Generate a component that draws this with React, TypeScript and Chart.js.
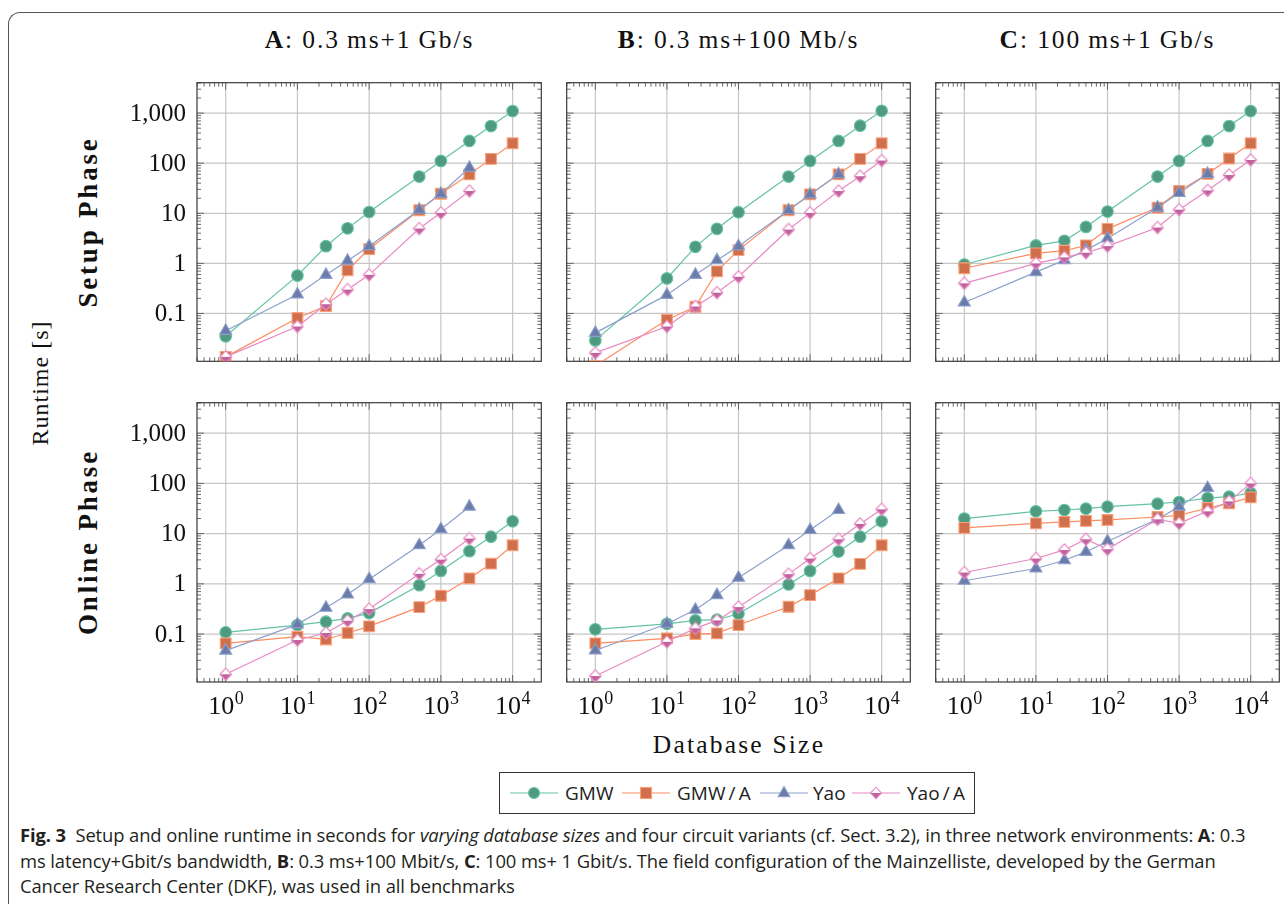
import React, { useEffect, useRef } from 'react';
import { Chart, registerables } from 'chart.js';

Chart.register(...registerables);

// ---------- data ----------
const dbSizes = [1, 10, 25, 50, 100, 500, 1000, 2500, 5000, 10000];
const seriesNames = ['GMW', 'GMW/A', 'Yao', 'Yao/A'];
const legendLabels = ['GMW', 'GMW\u2009/\u2009A', 'Yao', 'Yao\u2009/\u2009A'];
const columnTitles = [
  ['A', ': 0.3\u2009ms+1\u2009Gb/s'],
  ['B', ': 0.3\u2009ms+100\u2009Mb/s'],
  ['C', ': 100\u2009ms+1\u2009Gb/s'],
];
const rowTitles = ['Setup Phase', 'Online Phase'];
const yTickValues = [0.1, 1, 10, 100, 1000];
const yTickLabels = ['0.1', '1', '10', '100', '1,000'];
const xTickExponents = [0, 1, 2, 3, 4];

const setupA_GMW = [0.035, 0.57, 2.2, 5.0, 10.6, 54, 111, 278, 552, 1096];
const setupA_GMWA = [0.0136, 0.081, 0.14, 0.73, 1.93, 11.5, 24.6, 60, 122, 250];
const setupA_Yao = [0.045, 0.24, 0.59, 1.13, 2.2, 11.8, 24.6, 81];
const setupA_YaoA = [0.0136, 0.055, 0.153, 0.3, 0.59, 4.96, 10.2, 27.8];

const setupB_GMW = [0.029, 0.5, 2.14, 4.9, 10.5, 54, 111, 278, 560, 1112];
const setupB_GMWA = [0.009, 0.075, 0.136, 0.69, 1.84, 11.5, 23.8, 60, 122, 250];
const setupB_Yao = [0.041, 0.235, 0.59, 1.16, 2.2, 11.5, 23.8, 60];
const setupB_YaoA = [0.0163, 0.055, 0.138, 0.26, 0.54, 4.74, 10.2, 27.8, 55, 113];

const setupC_GMW = [0.95, 2.28, 2.82, 5.35, 10.8, 54, 111, 278, 552, 1096];
const setupC_GMWA = [0.8, 1.58, 1.79, 2.28, 4.89, 13.0, 27.8, 61, 124, 250];
const setupC_Yao = [0.166, 0.67, 1.16, 1.84, 3.14, 13.0, 25.4, 61];
const setupC_YaoA = [0.4, 1.0, 1.32, 1.63, 2.21, 5.19, 11.8, 28.6, 58, 116];

const onlineA_GMW = [0.108, 0.151, 0.176, 0.205, 0.261, 0.94, 1.81, 4.46, 8.7, 17.6];
const onlineA_GMWA = [0.065, 0.0885, 0.078, 0.105, 0.142, 0.344, 0.578, 1.28, 2.53, 5.86];
const onlineA_Yao = [0.0467, 0.156, 0.333, 0.614, 1.24, 5.86, 12.2, 34.4];
const onlineA_YaoA = [0.0158, 0.076, 0.105, 0.184, 0.314, 1.58, 3.04, 7.96];

const onlineB_GMW = [0.124, 0.16, 0.187, 0.193, 0.253, 0.97, 1.81, 4.39, 8.7, 17.6];
const onlineB_GMWA = [0.065, 0.082, 0.1, 0.103, 0.151, 0.349, 0.596, 1.28, 2.5, 5.86];
const onlineB_Yao = [0.047, 0.16, 0.304, 0.596, 1.32, 5.86, 11.8, 29.5];
const onlineB_YaoA = [0.0146, 0.07, 0.13, 0.187, 0.344, 1.56, 3.19, 7.71, 15.6, 30.4];

const onlineC_GMW = [19.9, 27.8, 29.5, 31.4, 34.4, 39.4, 42.6, 51.1, 54.3, 64.3];
const onlineC_GMWA = [13.0, 16.0, 17.1, 17.9, 18.7, 21.4, 23.1, 32.4, 40.1, 52.7];
const onlineC_Yao = [1.15, 2.02, 2.95, 4.32, 7.04, 19.3, 34.4, 80.7];
const onlineC_YaoA = [1.68, 3.19, 4.73, 7.71, 4.89, 19.3, 16.0, 27.8, 43.9, 100];

const panelSeries = [
  [
    [setupA_GMW, setupA_GMWA, setupA_Yao, setupA_YaoA],
    [setupB_GMW, setupB_GMWA, setupB_Yao, setupB_YaoA],
    [setupC_GMW, setupC_GMWA, setupC_Yao, setupC_YaoA],
  ],
  [
    [onlineA_GMW, onlineA_GMWA, onlineA_Yao, onlineA_YaoA],
    [onlineB_GMW, onlineB_GMWA, onlineB_Yao, onlineB_YaoA],
    [onlineC_GMW, onlineC_GMWA, onlineC_Yao, onlineC_YaoA],
  ],
];

// ---------- style ----------
const lineColors = ['#66c2a5', '#fc8d62', '#8da0cb', '#e78ac3'];
const fillColors = ['#4f9b80', '#cf6f4c', '#6b7cab', '#c0629e'];
const edgeColors = ['#66c2a5', '#fba07c', '#8da0cb', '#e78ac3'];
const SERIF = '"Liberation Serif", "DejaVu Serif", serif';
const SANS = '"Open Sans", "Noto Sans", sans-serif';

const X_MIN_LOG = -0.4;
const X_MAX_LOG = 4.4;
const Y_MIN_LOG = -1.955;
const Y_MAX_LOG = 3.607;
const PLOT_W = 345;
const PLOT_H = 280;
const colLefts = [197, 566, 935];
const rowTops = [82, 402];

function makeHalfDiamond(fill: string, edge: string) {
  const c = document.createElement('canvas');
  c.width = 16;
  c.height = 16;
  const g = c.getContext('2d')!;
  const cx = 8, cy = 8, w = 5.8, h = 6.2;
  g.beginPath();
  g.moveTo(cx - w, cy); g.lineTo(cx, cy + h); g.lineTo(cx + w, cy); g.closePath();
  g.fillStyle = fill; g.fill();
  g.beginPath();
  g.moveTo(cx - w, cy); g.lineTo(cx, cy - h); g.lineTo(cx + w, cy); g.closePath();
  g.fillStyle = '#ffffff'; g.fill();
  g.beginPath();
  g.moveTo(cx - w, cy); g.lineTo(cx, cy - h); g.lineTo(cx + w, cy); g.lineTo(cx, cy + h); g.closePath();
  g.strokeStyle = edge; g.lineWidth = 1.2; g.stroke();
  return c;
}

const axesPlugin = {
  id: 'pgfAxes',
  beforeDatasetsDraw(chart: any) {
    const { ctx, chartArea: a, scales } = chart;
    const xs = scales.x, ys = scales.y;
    ctx.save();
    // grid
    ctx.strokeStyle = '#c6c6c6';
    ctx.lineWidth = 1.2;
    for (const e of xTickExponents) {
      const px = xs.getPixelForValue(Math.pow(10, e));
      ctx.beginPath(); ctx.moveTo(px, a.top); ctx.lineTo(px, a.bottom); ctx.stroke();
    }
    for (const v of yTickValues) {
      const py = ys.getPixelForValue(v);
      ctx.beginPath(); ctx.moveTo(a.left, py); ctx.lineTo(a.right, py); ctx.stroke();
    }
    // ticks (inward, mirrored)
    ctx.strokeStyle = '#5a5a5a';
    ctx.lineWidth = 0.9;
    for (let e = -1; e <= 4; e++) {
      for (let m = 1; m <= 9; m++) {
        const v = m * Math.pow(10, e);
        const lv = Math.log10(v);
        if (lv < X_MIN_LOG || lv > X_MAX_LOG) continue;
        const len = m === 1 ? 7 : 4;
        const px = xs.getPixelForValue(v);
        ctx.beginPath();
        ctx.moveTo(px, a.bottom); ctx.lineTo(px, a.bottom - len);
        ctx.moveTo(px, a.top); ctx.lineTo(px, a.top + len);
        ctx.stroke();
      }
    }
    for (let e = -2; e <= 3; e++) {
      for (let m = 1; m <= 9; m++) {
        const v = m * Math.pow(10, e);
        const lv = Math.log10(v);
        if (lv < Y_MIN_LOG || lv > Y_MAX_LOG) continue;
        const len = m === 1 ? 7 : 4;
        const py = ys.getPixelForValue(v);
        ctx.beginPath();
        ctx.moveTo(a.left, py); ctx.lineTo(a.left + len, py);
        ctx.moveTo(a.right, py); ctx.lineTo(a.right - len, py);
        ctx.stroke();
      }
    }
    // frame
    ctx.strokeStyle = '#3a3a3a';
    ctx.lineWidth = 1.2;
    ctx.strokeRect(a.left, a.top, a.right - a.left, a.bottom - a.top);
    ctx.restore();
  },
  afterDraw(chart: any) {
    const { ctx, chartArea: a, scales } = chart;
    const opts = chart.options.plugins.pgfAxes || {};
    ctx.save();
    ctx.fillStyle = '#111';
    if (opts.showY) {
      ctx.font = `25px ${SERIF}`;
      ctx.textAlign = 'right';
      ctx.textBaseline = 'middle';
      yTickValues.forEach((v, i) => {
        ctx.fillText(yTickLabels[i], a.left - 11, scales.y.getPixelForValue(v) + 1);
      });
    }
    if (opts.showX) {
      ctx.textBaseline = 'alphabetic';
      ctx.textAlign = 'left';
      for (const e of xTickExponents) {
        const px = scales.x.getPixelForValue(Math.pow(10, e));
        ctx.font = `26px ${SERIF}`;
        const wb = ctx.measureText('10').width;
        ctx.font = `18px ${SERIF}`;
        const ws = ctx.measureText(String(e)).width;
        const start = px - (wb + ws) / 2;
        const base = a.bottom + 32;
        ctx.font = `26px ${SERIF}`;
        ctx.fillText('10', start, base);
        ctx.font = `18px ${SERIF}`;
        ctx.fillText(String(e), start + wb + 0.5, base - 10);
      }
    }
    ctx.restore();
  },
};

function Panel({ row, col }: { row: number; col: number }) {
  const ref = useRef<HTMLCanvasElement>(null);
  const showY = col === 0;
  const showX = row === 1;
  const padL = showY ? 90 : 8;
  const padR = 8;
  const padT = 8;
  const padB = showX ? 50 : 8;
  const w = PLOT_W + padL + padR;
  const h = PLOT_H + padT + padB;

  useEffect(() => {
    const series = panelSeries[row][col];
    const datasets = series.map((vals, i) => ({
      label: seriesNames[i],
      data: vals.map((v, k) => ({ x: dbSizes[k], y: v })),
      borderColor: lineColors[i],
      borderWidth: 1.2,
      pointStyle: i === 0 ? 'circle' : i === 1 ? 'rect' : i === 2 ? 'triangle' : makeHalfDiamond(fillColors[3], edgeColors[3]),
      pointRadius: i === 0 ? 5.8 : i === 1 ? 7.6 : i === 2 ? 7 : 6,
      pointBackgroundColor: fillColors[i],
      pointBorderColor: edgeColors[i],
      pointBorderWidth: 1.1,
      fill: false,
      tension: 0,
      clip: 0,
      order: 3 - i,
    }));
    const chart = new Chart(ref.current!, {
      type: 'line',
      data: { datasets } as any,
      plugins: [axesPlugin as any],
      options: {
        animation: false,
        responsive: false,
        maintainAspectRatio: false,
        devicePixelRatio: 1,
        events: [],
        layout: { padding: { left: padL, right: padR, top: padT, bottom: padB } },
        scales: {
          x: { type: 'logarithmic', min: Math.pow(10, X_MIN_LOG), max: Math.pow(10, X_MAX_LOG), display: false },
          y: { type: 'logarithmic', min: Math.pow(10, Y_MIN_LOG), max: Math.pow(10, Y_MAX_LOG), display: false },
        },
        plugins: {
          legend: { display: false },
          tooltip: { enabled: false },
          pgfAxes: { showX, showY },
        } as any,
      },
    });
    return () => chart.destroy();
  }, [row, col]);

  return (
    <canvas
      ref={ref}
      width={w}
      height={h}
      style={{ position: 'absolute', left: colLefts[col] - padL, top: rowTops[row] - padT, width: w, height: h }}
    />
  );
}

function LegendIcon({ i }: { i: number }) {
  const cx = 24, cy = 9;
  let marker: React.ReactNode = null;
  if (i === 0) marker = <circle cx={cx} cy={cy} r={5.5} fill={fillColors[0]} stroke={edgeColors[0]} strokeWidth={1.1} />;
  if (i === 1) marker = <rect x={cx - 5.5} y={cy - 5.5} width={11} height={11} fill={fillColors[1]} stroke={edgeColors[1]} strokeWidth={1.1} />;
  if (i === 2) marker = <polygon points={`${cx},${cy - 6.5} ${cx + 5.8},${cy + 3.6} ${cx - 5.8},${cy + 3.6}`} fill={fillColors[2]} stroke={edgeColors[2]} strokeWidth={1.1} />;
  if (i === 3)
    marker = (
      <g>
        <polygon points={`${cx - 5.5},${cy} ${cx},${cy + 5.8} ${cx + 5.5},${cy}`} fill={fillColors[3]} />
        <polygon points={`${cx - 5.5},${cy} ${cx},${cy - 5.8} ${cx + 5.5},${cy}`} fill="#fff" />
        <polygon points={`${cx - 5.5},${cy} ${cx},${cy - 5.8} ${cx + 5.5},${cy} ${cx},${cy + 5.8}`} fill="none" stroke={edgeColors[3]} strokeWidth={1.1} />
      </g>
    );
  return (
    <svg width={48} height={18} style={{ position: 'absolute', left: 0, top: 0 }}>
      <line x1={0} y1={cy} x2={48} y2={cy} stroke={lineColors[i]} strokeWidth={1.2} />
      {marker}
    </svg>
  );
}

const legendIconLefts = [10, 122, 260, 352];
const legendTextLefts = [65, 177, 313, 407];

export default function App() {
  return (
    <div style={{ position: 'fixed', left: 0, top: 0, width: 1284, height: 904, overflow: 'hidden', background: '#fff' }}>
      {/* outer figure frame */}
      <div
        style={{
          position: 'absolute', left: 8, top: 12, width: 1400, height: 1000,
          borderLeft: '1.3px solid #555', borderTop: '1.3px solid #555', borderTopLeftRadius: 12,
        }}
      />
      {/* column titles */}
      {columnTitles.map((t, c) => (
        <div
          key={c}
          style={{
            position: 'absolute', left: colLefts[c], top: 26, width: PLOT_W, textAlign: 'center',
            fontFamily: SERIF, fontSize: 25.5, lineHeight: '28px', color: '#111', whiteSpace: 'nowrap',
            letterSpacing: '1.9px',
          }}
        >
          <b>{t[0]}</b>{t[1]}
        </div>
      ))}
      {/* row titles */}
      {rowTitles.map((t, r) => (
        <div
          key={r}
          style={{
            position: 'absolute', left: 88, top: rowTops[r] + PLOT_H / 2, whiteSpace: 'nowrap',
            transform: 'translate(-50%, -50%) rotate(-90deg)', fontFamily: SERIF, fontWeight: 'bold',
            fontSize: 27, lineHeight: '30px', color: '#111', letterSpacing: '2.8px',
          }}
        >
          {t}
        </div>
      ))}
      <div
        style={{
          position: 'absolute', left: 40, top: 383, whiteSpace: 'nowrap',
          transform: 'translate(-50%, -50%) rotate(-90deg)', fontFamily: SERIF, fontSize: 24,
          lineHeight: '28px', color: '#111', letterSpacing: '1px',
        }}
      >
        Runtime [s]
      </div>
      <div
        style={{
          position: 'absolute', left: 739, top: 745, whiteSpace: 'nowrap', transform: 'translate(-50%, -50%)',
          fontFamily: SERIF, fontSize: 25.5, lineHeight: '28px', color: '#111', letterSpacing: '2.2px',
        }}
      >
        Database Size
      </div>
      {/* panels */}
      {[0, 1].map((r) => [0, 1, 2].map((c) => <Panel key={`${r}-${c}`} row={r} col={c} />))}
      {/* legend */}
      <div
        style={{
          position: 'absolute', left: 499, top: 772, width: 476, height: 42, boxSizing: 'border-box',
          border: '1.2px solid #333', background: '#fff',
        }}
      >
        {seriesNames.map((n, i) => (
          <React.Fragment key={n}>
            <div style={{ position: 'absolute', left: legendIconLefts[i], top: 11, width: 48, height: 18 }}>
              <LegendIcon i={i} />
            </div>
            <div
              style={{
                position: 'absolute', left: legendTextLefts[i], top: 7, fontFamily: SANS, fontSize: 19,
                lineHeight: '26px', color: '#222', whiteSpace: 'nowrap',
              }}
            >
              {legendLabels[i]}
            </div>
          </React.Fragment>
        ))}
      </div>
      {/* caption */}
      <div
        style={{
          position: 'absolute', left: 20, top: 822, fontFamily: '"Open Sans", "Noto Sans", sans-serif', fontSize: 18.4,
          lineHeight: '25.5px', color: '#231f20', whiteSpace: 'nowrap', letterSpacing: '-0.1px',
        }}
      >
        <b>Fig. 3</b>&nbsp; Setup and online runtime in seconds for <i>varying database sizes</i> and four circuit
        variants (cf. Sect. 3.2), in three network environments: <b>A</b>: 0.3
        <br />
        ms latency+Gbit/s bandwidth, <b>B</b>: 0.3 ms+100 Mbit/s, <b>C</b>: 100 ms+ 1 Gbit/s. The field configuration
        of the Mainzelliste, developed by the German
        <br />
        Cancer Research Center (DKF), was used in all benchmarks
      </div>
    </div>
  );
}
